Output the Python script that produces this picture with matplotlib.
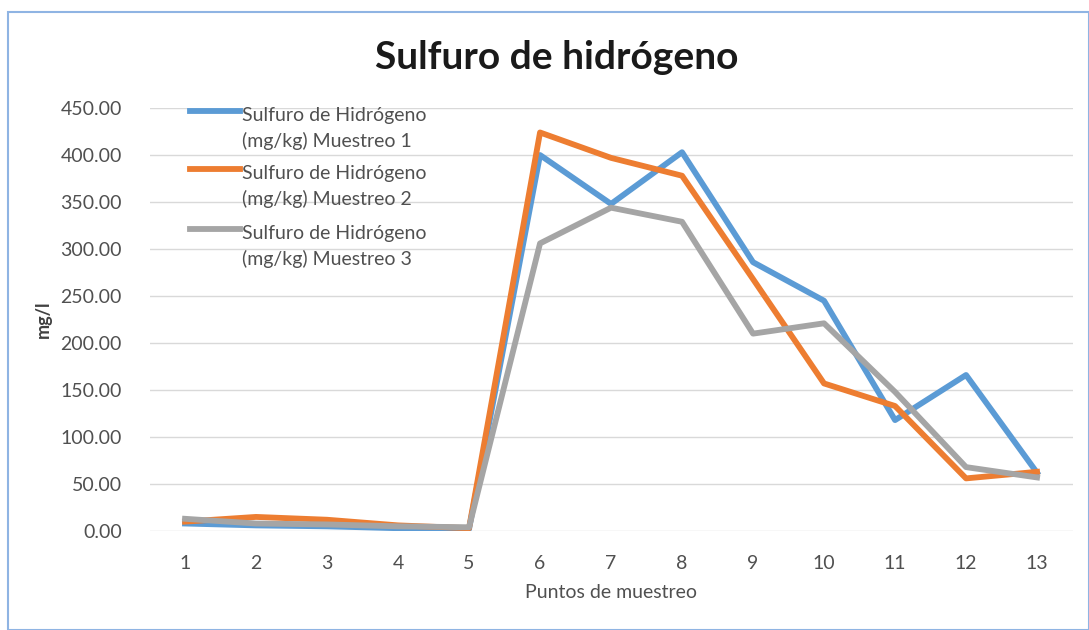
import numpy as np
import matplotlib
matplotlib.use('Agg')
import matplotlib.pyplot as plt
from matplotlib.patches import Rectangle
from matplotlib.lines import Line2D

plt.rcParams['font.family'] = ['Lato', 'DejaVu Sans']

# datos
puntos = [str(i) for i in range(1, 14)]
muestreo1 = [8, 6, 5, 3, 2, 400, 348, 403, 286, 245, 118, 166, 62]
muestreo2 = [10, 15, 12, 6, 3, 424, 397, 378, 268, 157, 133, 56, 63]
muestreo3 = [13, 8, 7, 5, 4, 306, 344, 329, 210, 221, 148, 68, 57]
etiquetas = ['Sulfuro de Hidrógeno\n(mg/kg) Muestreo 1',
             'Sulfuro de Hidrógeno\n(mg/kg) Muestreo 2',
             'Sulfuro de Hidrógeno\n(mg/kg) Muestreo 3']
colores = ['#5b9bd5', '#ed7d31', '#a5a5a5']
yticks = [0, 50, 100, 150, 200, 250, 300, 350, 400, 450]

fig = plt.figure(figsize=(10.89, 6.30), dpi=100)
fig.patches.append(Rectangle((8/1089, 0), 1 - 8/1089, 1 - 12/630, transform=fig.transFigure,
                             fill=False, edgecolor='#8fb4e3', linewidth=1.5))
ax = fig.add_axes([0.1373, 0.1571, 0.8476, 0.6714])

x = np.arange(len(puntos))
for serie, lab, col in zip([muestreo1, muestreo2, muestreo3], etiquetas, colores):
    ax.plot(x, serie, color=col, linewidth=4.2, label=lab, solid_joinstyle='round')

ax.set_xlim(-0.5, len(puntos) - 0.5)
ax.set_ylim(0, 450)
ax.set_xticks(x)
ax.set_xticklabels(puntos)
ax.set_yticks(yticks)
ax.set_yticklabels(['{:.2f}'.format(v) for v in yticks])
ax.tick_params(length=0, labelsize=14, colors='#505050')
ax.tick_params(axis='x', pad=17)
ax.tick_params(axis='y', pad=20)
ax.grid(axis='y', color='#d9d9d9', linewidth=1)
ax.set_axisbelow(True)
for s in ax.spines.values():
    s.set_visible(False)

ax.set_xlabel('Puntos de muestreo', fontsize=14, color='#505050', labelpad=9)
ax.set_ylabel('mg/l', fontsize=13, fontweight='bold', color='#404040', labelpad=6)
fig.text(0.511, 0.908, 'Sulfuro de hidrógeno', ha='center', va='center',
         fontsize=28, fontweight='bold', color='#1a1a1a')

# leyenda a mano: la linea queda a la altura del primer renglon, como en Excel
leg_y = [0.993, 0.856, 0.714]
for yy, lab, col in zip(leg_y, etiquetas, colores):
    ax.add_line(Line2D([0.044, 0.098], [yy, yy], transform=ax.transAxes,
                       color=col, linewidth=4.2, clip_on=False))
    ax.text(0.1, yy + 0.01, lab, transform=ax.transAxes, ha='left', va='top',
            fontsize=14, color='#505050', linespacing=1.55)

fig.savefig('out.png', dpi=100)
